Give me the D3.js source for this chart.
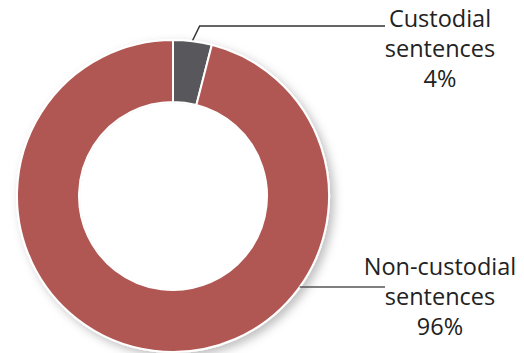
<!DOCTYPE html>
<html>
<head>
<meta charset="utf-8">
<script src="https://cdn.jsdelivr.net/npm/d3@7"></script>
<style>
  html, body { margin: 0; padding: 0; background: #fff; }
  svg { display: block; }
  text { font-family: "Open Sans", sans-serif; fill: #222; }
</style>
</head>
<body>
<svg id="chart" width="524" height="353"></svg>
<script>
// Share of sentences by type
const categories = ["Custodial sentences", "Non-custodial sentences"];
const values = [4, 96];
const labelLines = [["Custodial", "sentences", "4%"], ["Non-custodial", "sentences", "96%"]];
const colors = ["#58595b", "#b05753"];

const width = 524, height = 353;
const cx = 173, cy = 196;
const outerR = 156, innerR = 94;

const svg = d3.select("#chart");

const defs = svg.append("defs");
const shadow = defs.append("filter").attr("id", "ringShadow")
  .attr("x", "-20%").attr("y", "-20%").attr("width", "140%").attr("height", "140%");
shadow.append("feDropShadow")
  .attr("dx", 4).attr("dy", 4).attr("stdDeviation", 5)
  .attr("flood-color", "#000").attr("flood-opacity", 0.25);

const pie = d3.pie().sort(null).value(d => d);
const arcs = pie(values);
const arc = d3.arc().innerRadius(innerR).outerRadius(outerR);

const g = svg.append("g").attr("transform", `translate(${cx},${cy})`);

g.append("g").attr("filter", "url(#ringShadow)")
  .selectAll("path")
  .data(arcs)
  .join("path")
  .attr("d", arc)
  .attr("fill", (d, i) => colors[i])
  .attr("stroke", "#fff")
  .attr("stroke-width", 2);

// Keep the hole of the ring clean white (shadow only falls outside)
g.append("circle").attr("r", innerR - 1).attr("fill", "#fff");

// Leader lines
const pt = (angle, r) => [Math.sin(angle) * r, -Math.cos(angle) * r];
const line = d3.line();

// Custodial: from the slice's outer edge, angled up, then right to the label
const a0 = (arcs[0].startAngle + arcs[0].endAngle) / 2;
const p0 = pt(a0, outerR + 1);
g.append("path")
  .attr("d", line([p0, [p0[0] + 7, -170], [212, -170]]))
  .attr("fill", "none").attr("stroke", "#333").attr("stroke-width", 1.5);

// Non-custodial: horizontal from the ring edge to the label
const yNc = 91;
const xEdge = Math.sqrt(outerR * outerR - yNc * yNc);
g.append("path")
  .attr("d", line([[xEdge, yNc], [212, yNc]]))
  .attr("fill", "none").attr("stroke", "#555").attr("stroke-width", 1.5);

// Labels
const labelPos = [[440, 27], [440, 275]];
labelLines.forEach((lines, i) => {
  const t = svg.append("text")
    .attr("text-anchor", "middle")
    .attr("font-size", 23.5);
  lines.forEach((s, j) => {
    t.append("tspan")
      .attr("x", labelPos[i][0])
      .attr("y", labelPos[i][1] + j * 30)
      .text(s);
  });
});
</script>
</body>
</html>
